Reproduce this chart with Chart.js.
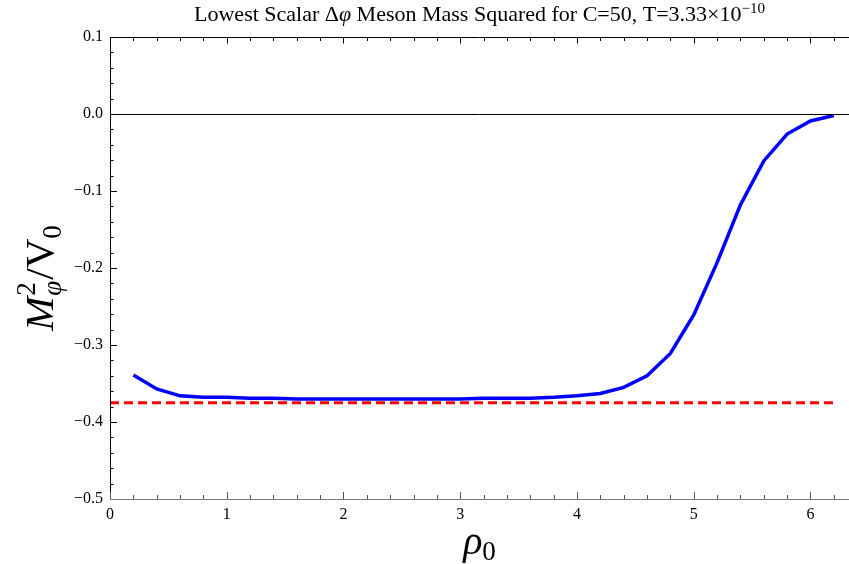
<!DOCTYPE html>
<html>
<head>
<meta charset="utf-8">
<script src="https://cdn.jsdelivr.net/npm/chart.js@4.4.1/dist/chart.umd.min.js"></script>
<style>
  body { margin: 0; background: #fff; }
  canvas { display: block; }
</style>
</head>
<body>
<canvas id="myChart" width="849" height="564"></canvas>
<script>
// rho_0 values and lowest scalar meson mass squared
const rho = [0.2, 0.4, 0.6, 0.8, 1.0, 1.2, 1.4, 1.6, 1.8, 2.0, 2.2, 2.4, 2.6, 2.8, 3.0, 3.2,
             3.4, 3.6, 3.8, 4.0, 4.2, 4.4, 4.6, 4.8, 5.0, 5.2, 5.4, 5.6, 5.8, 6.0, 6.2];
const mass2 = [-0.339, -0.357, -0.366, -0.368, -0.368, -0.369, -0.369, -0.370, -0.370, -0.370,
               -0.370, -0.370, -0.370, -0.370, -0.370, -0.369, -0.369, -0.369, -0.368, -0.366,
               -0.363, -0.355, -0.340, -0.311, -0.261, -0.193, -0.118, -0.061, -0.026, -0.009, -0.002];
// reference (dashed) level
const refX = [0, 6.2];
const refLevel = -0.375;
const xTicks = [0, 1, 2, 3, 4, 5, 6];
const yTicks = [0.1, 0.0, -0.1, -0.2, -0.3, -0.4, -0.5];

const ctx = document.getElementById('myChart').getContext('2d');
const SERIF = '"Liberation Serif", "DejaVu Serif", serif';

function fmt_y(v){
    let s = (Math.round(v*10)/10).toFixed(1);
    if (s === '-0.0') s = '0.0';
    return s.replace('-', '\u2212');
}

// draws frame, ticks pointing inward, zero line and the math labels
const framePlugin = {
    id: 'frame',
    afterDraw(chart){
        const c = chart.ctx;
        const a = chart.chartArea;
        const xs = chart.scales.x, ys = chart.scales.y;
        c.save();
        // zero line
        c.strokeStyle = '#000';
        c.lineWidth = 1;
        let y0 = Math.round(ys.getPixelForValue(0)) + 0.5;
        c.beginPath(); c.moveTo(a.left, y0); c.lineTo(a.right, y0); c.stroke();
        // top frame
        let yt = Math.round(a.top) + 0.5;
        c.beginPath(); c.moveTo(a.left, yt); c.lineTo(a.right, yt); c.stroke();
        // left axis
        let xl = Math.round(a.left) + 0.5;
        c.beginPath(); c.moveTo(xl, a.top); c.lineTo(xl, a.bottom); c.stroke();
        // x ticks
        for (let i = 0; i <= 31; i++){
            let v = i*0.2;
            let px = Math.round(xs.getPixelForValue(v)) + 0.5;
            let major = (i % 5 === 0);
            c.strokeStyle = '#000';
            c.beginPath(); c.moveTo(px, yt); c.lineTo(px, yt + (major ? 6 : 3.5)); c.stroke();
            c.strokeStyle = '#555';
            c.beginPath(); c.moveTo(px, a.bottom); c.lineTo(px, a.bottom - (major ? 7 : 4)); c.stroke();
        }
        // y ticks
        c.strokeStyle = '#000';
        for (let i = 0; i <= 30; i++){
            let v = -0.5 + i*0.02;
            let py = Math.round(ys.getPixelForValue(v)) + 0.5;
            let major = (i % 5 === 0);
            c.beginPath(); c.moveTo(a.left, py); c.lineTo(a.left + (major ? 7 : 3.5), py); c.stroke();
        }
        // bottom axis (gray)
        c.strokeStyle = '#777';
        let yb = Math.round(a.bottom) + 0.5;
        c.beginPath(); c.moveTo(a.left, yb); c.lineTo(a.right, yb); c.stroke();

        c.fillStyle = '#000';
        c.textBaseline = 'alphabetic';
        // title
        const parts = [
            ['Lowest Scalar \u0394', '22px ' + SERIF, 0],
            ['\u03c6', 'italic 22px ' + SERIF, 0],
            [' Meson Mass Squared for C=50, T=3.33\u00d710', '22px ' + SERIF, 0],
            ['\u221210', '15px ' + SERIF, -8]
        ];
        let w = 0;
        parts.forEach(p => { c.font = p[1]; w += c.measureText(p[0]).width; });
        let tx = (a.left + a.right)/2 - w/2;
        parts.forEach(p => {
            c.font = p[1];
            c.fillText(p[0], tx, 21 + p[2]);
            tx += c.measureText(p[0]).width;
        });
        // x title
        c.font = 'italic 40px ' + SERIF;
        let rw = c.measureText('\u03c1').width;
        c.font = '27px ' + SERIF;
        let zw = c.measureText('0').width;
        let cx = (a.left + a.right)/2 - (rw + zw)/2;
        c.font = 'italic 40px ' + SERIF;
        c.fillText('\u03c1', cx, 554);
        c.font = '27px ' + SERIF;
        c.fillText('0', cx + rw, 560);
        // y title, rotated
        c.translate(53, 278);
        c.rotate(-Math.PI/2);
        c.font = 'italic 41px ' + SERIF;
        let mw = c.measureText('M').width;
        c.font = 'italic 27px ' + SERIF;
        let phw = c.measureText('\u03c6').width;
        c.font = '27px ' + SERIF;
        let tw = c.measureText('2').width;
        c.font = '41px ' + SERIF;
        let vw = c.measureText('/V').width;
        c.font = '27px ' + SERIF;
        let ow = c.measureText('0').width;
        let sw = Math.max(phw, tw) + 2;
        let total = mw + sw + vw + ow;
        let x = -total/2;
        c.font = 'italic 41px ' + SERIF;
        c.fillText('M', x, 0); x += mw;
        c.font = '27px ' + SERIF;
        c.fillText('2', x + 1, -18);
        c.font = 'italic 27px ' + SERIF;
        c.fillText('\u03c6', x + 1, 8);
        x += sw;
        c.font = '41px ' + SERIF;
        c.fillText('/V', x, 0); x += vw;
        c.font = '27px ' + SERIF;
        c.fillText('0', x, 8);
        c.restore();
    }
};

new Chart(ctx, {
    type: 'scatter',
    data: {
        datasets: [
            {
                data: refX.map(x => ({x: x, y: refLevel})),
                showLine: true,
                borderColor: 'rgb(255, 0, 0)',
                borderWidth: 3,
                borderDash: [9, 5],
                pointRadius: 0,
                fill: false
            },
            {
                data: rho.map((x, i) => ({x: x, y: mass2[i]})),
                showLine: true,
                borderColor: 'rgb(0, 0, 255)',
                borderWidth: 3.5,
                pointRadius: 0,
                tension: 0,
                fill: false
            }
        ]
    },
    options: {
        responsive: false,
        animation: false,
        layout: { padding: { top: 37, right: 0, left: 0, bottom: 0 } },
        plugins: { legend: { display: false }, tooltip: { enabled: false }, title: { display: false } },
        scales: {
            x: {
                type: 'linear',
                min: 0, max: 6.33,
                grid: { display: false, drawTicks: false },
                border: { display: false },
                afterBuildTicks: s => { s.ticks = xTicks.map(v => ({value: v})); },
                afterFit: s => { s.height = 65; },
                ticks: {
                    autoSkip: false, maxRotation: 0, padding: 6, color: '#000',
                    font: { family: SERIF, size: 16 },
                    callback: v => String(v)
                }
            },
            y: {
                type: 'linear',
                min: -0.5, max: 0.1,
                grid: { display: false, drawTicks: false },
                border: { display: false },
                afterBuildTicks: s => { s.ticks = yTicks.map(v => ({value: v})); },
                afterFit: s => { s.width = 110; },
                ticks: {
                    autoSkip: false, padding: 7, color: '#000',
                    font: { family: SERIF, size: 16 },
                    callback: v => fmt_y(v)
                }
            }
        }
    },
    plugins: [framePlugin]
});
</script>
</body>
</html>
